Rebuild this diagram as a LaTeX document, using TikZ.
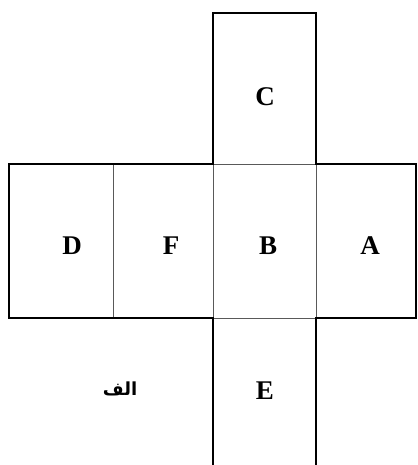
\documentclass[tikz,border=0pt]{standalone}
\usepackage{fontspec}
\setmainfont{Liberation Serif}
\newfontfamily\arabicfont[Script=Arabic]{DejaVu Sans}
\TeXXeTstate=1
\tikzset{
  outline/.style={line width=2.8pt, black, line join=miter},
  inner/.style={line width=0.9pt, black!65},
  lab/.style={font=\fontsize{27}{32}\selectfont\bfseries, inner sep=0pt}
}
\begin{document}
\begin{tikzpicture}[x=1pt,y=-1pt]
\useasboundingbox (0,0) rectangle (417,465);
% inner thin lines
\draw[inner] (113,164) -- (113,318);
\draw[inner] (213,164) -- (213,318);
\draw[inner] (316,164) -- (316,318);
\draw[inner] (213,164) -- (316,164);
\draw[inner] (213,318) -- (316,318);
% outer outline
\draw[outline] (213,470) -- (213,318) -- (9,318) -- (9,164) -- (213,164) -- (213,13) -- (316,13) -- (316,164) -- (416,164) -- (416,318) -- (316,318) -- (316,470);
% labels
\node[lab] (C) at (265,97) {C};
\node[lab] (D) at (72,245.5) {D};
\node[lab] (F) at (171,245.5) {F};
\node[lab] (B) at (268,245.5) {B};
\node[lab] (A) at (370,245.5) {A};
\node[lab] (E) at (265,391) {E};
\node[inner sep=0pt] (alef) at (120,389) {\arabicfont\bfseries\fontsize{18}{20}\selectfont\beginR الف\endR};
\end{tikzpicture}
\end{document}
